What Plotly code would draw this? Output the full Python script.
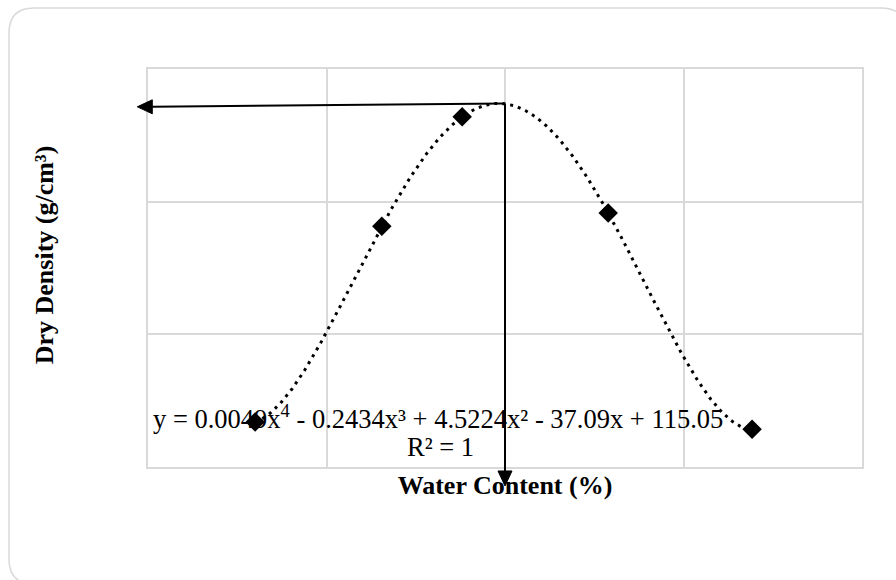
import numpy as np
import plotly.graph_objects as go

# ---- data ----
water_content = [3.00, 6.55, 8.80, 12.89, 16.92]      # %
dry_density = [1.668, 1.963, 2.128, 1.983, 1.657]     # g/cm3
omc = 10.0          # optimum water content marked by the arrow
mdd = 2.148         # maximum dry density marked by the arrow
x_range = [0, 20]
y_range = [1.6, 2.2]
eq_text = "y = 0.0049x<sup>4</sup> - 0.2434x³ + 4.5224x² - 37.09x + 115.05"
r2_text = "R² = 1"
x_title = "Water Content (%)"
y_title = "Dry Density (g/cm³)"

# 4th-order polynomial trendline through the points
coef = np.polyfit(water_content, dry_density, 4)
xt = np.linspace(water_content[0], water_content[-1], 400)
yt = np.polyval(coef, xt)

W, H = 896, 580
ml, mr, mt, mb = 148, 34, 69, 113
pw, ph = W - ml - mr, H - mt - mb


def px(x):          # pixel -> paper
    return (x - ml) / pw


def py(y):
    return (H - mb - y) / ph


def dx(v):          # data -> paper
    return (v - x_range[0]) / (x_range[1] - x_range[0])


def dy(v):
    return (v - y_range[0]) / (y_range[1] - y_range[0])


fig = go.Figure()
fig.add_trace(go.Scatter(
    x=xt, y=yt, mode="lines",
    line=dict(color="black", width=3, dash="3px,5px"),
    hoverinfo="skip", showlegend=False))
fig.add_trace(go.Scatter(
    x=water_content, y=dry_density, mode="markers",
    marker=dict(symbol="diamond", size=15, color="black"),
    showlegend=False, cliponaxis=False))

serif = "Liberation Serif, Times New Roman, serif"
grid = "#d9d9d9"

# rounded outer border
x0, x1, y0, y1, r = 9, 906, 8, 584, 25
border = (f"M {px(x0 + r)},{py(y0)} L {px(x1 - r)},{py(y0)} "
          f"Q {px(x1)},{py(y0)} {px(x1)},{py(y0 + r)} "
          f"L {px(x1)},{py(y1 - r)} Q {px(x1)},{py(y1)} {px(x1 - r)},{py(y1)} "
          f"L {px(x0 + r)},{py(y1)} Q {px(x0)},{py(y1)} {px(x0)},{py(y1 - r)} "
          f"L {px(x0)},{py(y0 + r)} Q {px(x0)},{py(y0)} {px(x0 + r)},{py(y0)} Z")

# arrows (drawn in paper units so they may run past the plot frame)
head_len, head_half = 15 / pw, 7 / ph          # horizontal head
head_len_v, head_half_v = 15 / ph, 7 / pw      # vertical head
ax_p, ay_p = dx(omc), dy(mdd)
tipL_x, tipL_y = dx(x_range[0] - 0.3), dy(mdd - 0.005)
tipD_x, tipD_y = dx(omc), dy(y_range[0] - 0.0286)

shapes = [
    dict(type="path", path=border, xref="paper", yref="paper",
         line=dict(color=grid, width=1.5), layer="below"),
    dict(type="line", xref="paper", yref="paper",
         x0=ax_p, y0=ay_p, x1=tipL_x + head_len, y1=tipL_y,
         line=dict(color="black", width=2)),
    dict(type="path", xref="paper", yref="paper",
         path=(f"M {tipL_x},{tipL_y} L {tipL_x + head_len},{tipL_y + head_half} "
               f"L {tipL_x + head_len},{tipL_y - head_half} Z"),
         fillcolor="black", line=dict(color="black", width=1)),
    dict(type="line", xref="paper", yref="paper",
         x0=ax_p, y0=ay_p, x1=tipD_x, y1=tipD_y + head_len_v,
         line=dict(color="black", width=2)),
    dict(type="path", xref="paper", yref="paper",
         path=(f"M {tipD_x},{tipD_y} L {tipD_x - head_half_v},{tipD_y + head_len_v} "
               f"L {tipD_x + head_half_v},{tipD_y + head_len_v} Z"),
         fillcolor="black", line=dict(color="black", width=1)),
]

annotations = [
    dict(x=px(438), y=py(417), xref="paper", yref="paper", text=eq_text,
         showarrow=False, xanchor="center", yanchor="middle",
         font=dict(family=serif, size=26.5, color="black")),
    dict(x=px(440), y=py(447), xref="paper", yref="paper", text=r2_text,
         showarrow=False, xanchor="center", yanchor="middle",
         font=dict(family=serif, size=26.5, color="black")),
]

title_font = dict(family=serif, size=26, color="black")
pad = "\u00a0" * 4   # nudges the vertical title up like the reference

fig.update_layout(
    width=W, height=H, autosize=False,
    margin=dict(l=ml, r=mr, t=mt, b=mb, pad=0),
    paper_bgcolor="white", plot_bgcolor="white",
    showlegend=False,
    xaxis=dict(range=x_range, tick0=0, dtick=5, showgrid=True,
               gridcolor=grid, gridwidth=1.5, zeroline=False,
               showticklabels=False, ticks="", showline=True,
               linecolor=grid, linewidth=1.5, mirror=True, fixedrange=True,
               title=dict(text=f"<b>{x_title}</b>", font=title_font,
                          standoff=8)),
    yaxis=dict(range=y_range, tick0=1.6, dtick=0.2, showgrid=True,
               gridcolor=grid, gridwidth=1.5, zeroline=False,
               showticklabels=False, ticks="", showline=True,
               linecolor=grid, linewidth=1.5, mirror=True, fixedrange=True,
               title=dict(text=f"<b>{pad}{y_title}</b>", font=title_font,
                          standoff=85)),
    shapes=shapes,
    annotations=annotations,
)

fig.write_html("out.html")
